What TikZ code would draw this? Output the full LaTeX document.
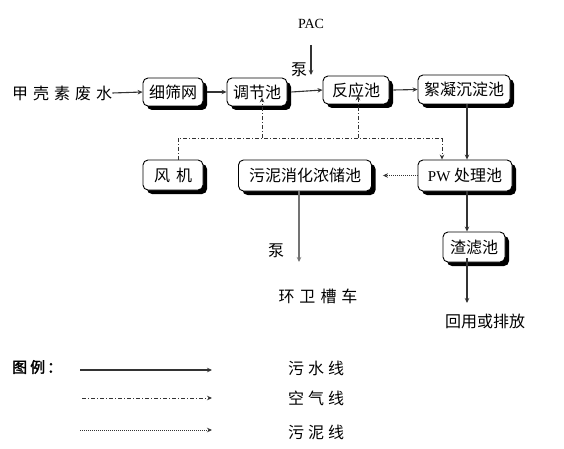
\documentclass[tikz,border=0pt]{standalone}
\usepackage{fontspec}
\setmainfont{Liberation Serif}
\newfontfamily\cjk{Noto Sans CJK SC}[AutoFakeBold=2]
\newfontfamily\lat{Liberation Serif}
\usetikzlibrary{arrows.meta,shadows}
\tikzset{
  box/.style={draw=black, line width=0.9pt, rounded corners=5pt, fill=white,
    drop shadow={shadow xshift=4pt, shadow yshift=-4pt, fill=black, opacity=1},
    inner sep=0pt, align=center, font=\cjk\fontsize{16}{18}\selectfont},
  lbl/.style={inner sep=0pt, font=\cjk\fontsize{16}{18}\selectfont},
  tip/.style={-{Stealth[length=5pt,width=4.5pt]}},
  water/.style={tip, line width=1.1pt, draw=black!80},
  air/.style={tip, line width=0.9pt, draw=black!80, dash pattern=on 4pt off 2pt on 1pt off 2pt},
  sludge/.style={tip, line width=0.9pt, draw=black!80, dash pattern=on 1pt off 1pt},
}
\begin{document}
\begin{tikzpicture}[x=1pt,y=-1pt]
\useasboundingbox (0,0) rectangle (564,449);
% boxes
\node[box, minimum width=60pt, minimum height=28pt] (xsw) at (173,92) {细筛网};
\node[box, minimum width=60pt, minimum height=28pt] (tjc) at (257,92) {调节池};
\node[box, minimum width=66pt, minimum height=28pt] (fyc) at (356,90) {反应池};
\node[box, minimum width=92pt, minimum height=29pt] (xnc) at (464,89.5) {絮凝沉淀池};
\node[box, minimum width=60pt, minimum height=30pt] (fj) at (173,175) {风\hspace{6pt}机};
\node[box, minimum width=133pt, minimum height=31pt] (wn) at (305,175.5) {污泥消化浓储池};
\node[box, minimum width=94pt, minimum height=31pt] (pw) at (465,175.5) {{\lat\fontsize{15}{17}\selectfont PW} 处理池};
\node[box, minimum width=62pt, minimum height=30pt] (zlc) at (474,247) {渣滤池};
% labels
\node[lbl, anchor=west] (src) at (12,93) {甲\hspace{5pt}壳\hspace{5pt}素\hspace{5pt}废\hspace{5pt}水};
\node[inner sep=0pt, font=\lat\fontsize{14}{16}\selectfont] (pac) at (311,24) {PAC};
\node[lbl] (beng1) at (299,70) {泵};
\node[lbl] (beng2) at (276,251) {泵};
\node[lbl] (hw) at (318,296) {环\hspace{5pt}卫\hspace{5pt}槽\hspace{5pt}车};
\node[lbl] (hy) at (485,321) {回用或排放};
% water lines
\draw[water] (src.east) -- (xsw.west);
\draw[water] ([xshift=4pt]xsw.east) -- (tjc.west);
\draw[water] ([xshift=4pt]tjc.east) -- (fyc.west);
\draw[water] ([xshift=4pt]fyc.east) -- (xnc.west);
\coordinate (pacend) at (311,75);
\draw[water] (pac.south |- 0,45) -- (pacend);
\draw[water] (xnc.south -| 467,0) -- (pw.north -| 467,0);
\draw[water] (pw.south -| 467,0) -- (zlc.north -| 467,0);
\coordinate (hyend) at (467,303);
\draw[water] ([yshift=4pt]zlc.south -| 467,0) -- (hyend);
\coordinate (hwend) at (299,262);
\draw[water, draw=black!55] (wn.south -| 299,0) -- (hwend);
% air lines
\coordinate (a1) at (178,138);
\coordinate (a2) at (262,138);
\coordinate (a3) at (358,138);
\coordinate (a4) at (442,138);
\draw[air, -] (fj.north -| a1) -- (a1) -- (a4);
\draw[air] (a4) -- (pw.north -| a4);
\draw[air] (a2) -- ([yshift=9pt]tjc.south -| a2);
\draw[air] (a3) -- ([yshift=9pt]fyc.south -| a3);
% sludge line
\draw[sludge] (pw.west) -- ([xshift=11pt]wn.east);
% legend
\node[lbl, font=\cjk\bfseries\fontsize{15}{17}\selectfont, anchor=west] (lg) at (12,367) {图\hspace{3pt}例\hspace{2pt}：};
\coordinate (l1s) at (80,370); \coordinate (l1e) at (212,370);
\coordinate (l2s) at (82,398); \coordinate (l2e) at (212,398);
\coordinate (l3s) at (80,430); \coordinate (l3e) at (212,430);
\draw[water] (l1s) -- (l1e);
\draw[air] (l2s) -- (l2e);
\draw[sludge] (l3s) -- (l3e);
\node[lbl] (t1) at (316,368) {污\hspace{4pt}水\hspace{4pt}线};
\node[lbl] (t2) at (316,398) {空\hspace{4pt}气\hspace{4pt}线};
\node[lbl] (t3) at (316,432) {污\hspace{4pt}泥\hspace{4pt}线};
\end{tikzpicture}
\end{document}
